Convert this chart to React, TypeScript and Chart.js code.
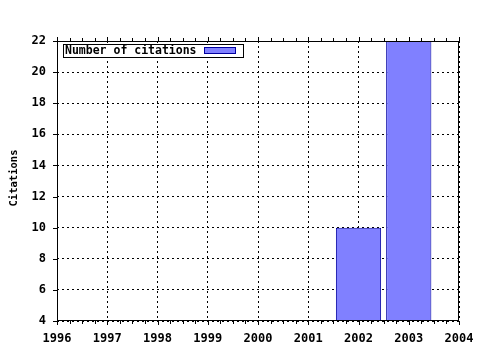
import React, { useEffect, useRef } from "react";
import { Chart, registerables } from "chart.js";

Chart.register(...registerables);

const years = [2002, 2003];
const citations = [10, 22];
const seriesLabel = "Number of citations";
const yTitle = "Citations";
const xMin = 1996;
const xMax = 2004;
const yMin = 4;
const yMax = 22;

const FONT = '"DejaVu Sans Mono", monospace';
const FILL = "#8080ff";
const EDGE = "#0000a0";

const framePlugin = {
  id: "frame",
  afterDatasetsDraw(chart: any) {
    const { ctx, chartArea } = chart;
    const { left, right, top, bottom } = chartArea;
    const xs = chart.scales.x;
    const ys = chart.scales.y;
    ctx.save();
    ctx.strokeStyle = "#000";
    ctx.lineWidth = 1;
    ctx.setLineDash([]);
    ctx.strokeRect(Math.round(left) + 0.5, Math.round(top) + 0.5, Math.round(right - left) - 1, Math.round(bottom - top) - 1);
    ctx.beginPath();
    for (let v = xMin; v <= xMax + 1e-9; v += 0.25) {
      const px = Math.round(xs.getPixelForValue(v)) + 0.5;
      const major = Math.abs(v - Math.round(v)) < 1e-9;
      const len = major ? 4 : 3;
      ctx.moveTo(px, Math.round(bottom));
      ctx.lineTo(px, Math.round(bottom) + len);
      ctx.moveTo(px, Math.round(top));
      ctx.lineTo(px, Math.round(top) - len);
    }
    for (let v = yMin; v <= yMax; v += 2) {
      const py = Math.round(ys.getPixelForValue(v)) + 0.5;
      ctx.moveTo(Math.round(left), py);
      ctx.lineTo(Math.round(left) - 4, py);
    }
    ctx.stroke();

    // legend
    const bx = 63.5, by = 44.5, bw = 180, bh = 13;
    ctx.fillStyle = "#fff";
    ctx.fillRect(bx, by, bw, bh);
    ctx.strokeRect(bx, by, bw, bh);
    ctx.fillStyle = "#000";
    ctx.font = "bold 11.5px " + FONT;
    ctx.textBaseline = "middle";
    ctx.textAlign = "left";
    ctx.fillText(seriesLabel, 65, 51.5);
    ctx.fillStyle = FILL;
    ctx.fillRect(204, 47, 31, 7);
    ctx.strokeStyle = EDGE;
    ctx.strokeRect(204.5, 47.5, 31, 6);

    // y title
    ctx.fillStyle = "#000";
    ctx.translate(14, 178);
    ctx.rotate(-Math.PI / 2);
    ctx.font = "bold 10.5px " + FONT;
    ctx.textAlign = "center";
    ctx.textBaseline = "middle";
    ctx.fillText(yTitle, 0, 0);
    ctx.restore();
  },
};

export default function App() {
  const ref = useRef<HTMLCanvasElement>(null);
  useEffect(() => {
    document.body.style.margin = "0";
    const canvas = ref.current!;
    const chart = new Chart(canvas, {
      type: "bar",
      data: {
        datasets: [
          {
            label: seriesLabel,
            data: years.map((y, i) => ({ x: y, y: citations[i] })),
            backgroundColor: FILL,
            borderColor: EDGE,
            borderWidth: 1,
            barPercentage: 0.9,
            categoryPercentage: 1,
          },
        ],
      },
      options: {
        responsive: false,
        animation: false,
        devicePixelRatio: 1,
        layout: { padding: { left: 0, top: 41, right: 21, bottom: 0 } },
        plugins: { legend: { display: false }, tooltip: { enabled: false }, title: { display: false } },
        scales: {
          x: {
            type: "linear",
            min: xMin,
            max: xMax,
            offset: false,
            grid: { color: "#000", lineWidth: 1, drawTicks: false, offset: false },
            border: { display: false, dash: [2, 3] },
            ticks: {
              stepSize: 1,
              color: "#000",
              font: { family: FONT, size: 12, weight: "bold" },
              padding: 11,
              maxRotation: 0,
              callback: (v: any) => String(v),
            },
            afterFit: (s: any) => {
              s.height = 29;
              s.paddingLeft = 0;
              s.paddingRight = 0;
            },
          },
          y: {
            min: yMin,
            max: yMax,
            grid: { color: "#000", lineWidth: 1, drawTicks: false },
            border: { display: false, dash: [2, 3] },
            ticks: {
              stepSize: 2,
              color: "#000",
              font: { family: FONT, size: 12, weight: "bold" },
              padding: 11,
            },
            afterFit: (s: any) => {
              s.width = 57;
              s.paddingTop = 0;
              s.paddingBottom = 0;
            },
          },
        },
      },
      plugins: [framePlugin],
    } as any);
    return () => chart.destroy();
  }, []);
  return <canvas ref={ref} width={480} height={350} style={{ display: "block" }} />;
}
